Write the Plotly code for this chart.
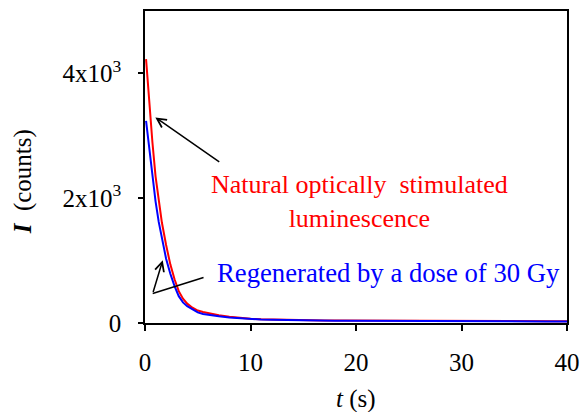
import plotly.graph_objects as go

# Time (s)
t_nat = [0.1, 0.4, 0.7, 1.0, 1.3, 1.6, 2.0, 2.4, 2.8, 3.2, 3.6, 4.0, 4.5, 5.0, 5.5, 6.0,
         7.0, 8.0, 9.0, 10, 11, 12, 13, 14, 15, 16, 17, 18, 19, 20, 21, 22, 23, 24, 25,
         26, 27, 28, 29, 30, 31, 32, 33, 34, 35, 36, 37, 38, 39, 40]
# Natural OSL counts (red)
i_nat = [4230, 3500, 2900, 2350, 1950, 1610, 1250, 940, 700, 510, 390, 310, 245, 200, 175, 155,
         125, 100, 82, 68, 60, 55, 51, 48, 46, 44, 42, 40, 39, 38, 37, 36, 35, 35, 34,
         33, 33, 32, 32, 31, 31, 30, 30, 30, 29, 29, 29, 28, 28, 28]

t_reg = t_nat
# Regenerated (30 Gy) counts (blue)
i_reg = [3240, 2800, 2350, 1950, 1620, 1350, 1030, 790, 590, 430, 330, 270, 215, 170, 145, 130,
         108, 90, 75, 63, 56, 51, 47, 44, 42, 40, 38, 37, 36, 35, 34, 33, 33, 32, 31,
         31, 30, 30, 29, 29, 28, 28, 28, 27, 27, 27, 26, 26, 26, 26]

x_ticks = [0, 10, 20, 30, 40]
y_ticks = [0, 2000, 4000]
y_ticktext = ["0", "2x10<sup>3</sup>", "4x10<sup>3</sup>"]

FONT = "Liberation Serif, Times New Roman, serif"

fig = go.Figure()
fig.add_trace(go.Scatter(x=t_nat, y=i_nat, mode="lines",
                         line=dict(color="#ff0000", width=2), showlegend=False))
fig.add_trace(go.Scatter(x=t_reg, y=i_reg, mode="lines",
                         line=dict(color="#0000ff", width=2), showlegend=False))

fig.update_layout(
    width=584, height=412,
    margin=dict(l=145, r=17, t=11, b=89, autoexpand=False),
    plot_bgcolor="white", paper_bgcolor="white",
    font=dict(family=FONT, size=25, color="black"),
    xaxis=dict(range=[0, 40], tickvals=x_ticks, ticks="outside", ticklen=6,
               tickwidth=1.5, tickcolor="black", showline=True, linecolor="black",
               linewidth=1.5, mirror=True, showgrid=False, zeroline=False,
               automargin=False, ticklabelstandoff=10, tickfont=dict(size=25)),
    yaxis=dict(range=[0, 5000], tickvals=y_ticks, ticktext=y_ticktext, ticks="outside",
               ticklen=5, tickwidth=1.5, tickcolor="black", showline=True,
               linecolor="black", linewidth=1.5, mirror=True, showgrid=False,
               zeroline=False, automargin=False, ticklabelstandoff=12,
               tickfont=dict(size=25)),
)

# Axis titles
fig.add_annotation(text="<i>t</i> (s)", xref="paper", yref="paper", x=0.5, y=-0.242,
                   showarrow=False, font=dict(size=25), xanchor="center", yanchor="middle")
fig.add_annotation(text="<b><i>I</i></b>  (counts)", xref="paper", yref="paper",
                   x=-0.289, y=0.451, textangle=-90, showarrow=False,
                   font=dict(size=25), xanchor="center", yanchor="middle")

# Labels
fig.add_annotation(text="Natural optically  stimulated<br>luminescence", x=20.3, y=1950,
                   showarrow=False, font=dict(size=26, color="#ff0000"),
                   xanchor="center", yanchor="middle")
fig.add_annotation(text="Regenerated by a dose of 30 Gy", x=23.1, y=800,
                   showarrow=False, font=dict(size=26.7, color="#0000ff"),
                   xanchor="center", yanchor="middle")

# Arrows
fig.add_annotation(x=0.98, y=3295, ax=7.18, ay=2566, xref="x", yref="y", axref="x", ayref="y",
                   showarrow=True, arrowhead=5, arrowsize=1.2, arrowwidth=1.5,
                   arrowcolor="black", text="")
fig.add_annotation(x=1.68, y=1006, ax=0.73, ay=472, xref="x", yref="y", axref="x", ayref="y",
                   showarrow=True, arrowhead=5, arrowsize=1.2, arrowwidth=1.5,
                   arrowcolor="black", text="")
fig.add_shape(type="line", x0=0.73, y0=472, x1=5.55, y1=728, xref="x", yref="y",
              line=dict(color="black", width=1.5))

fig.write_html("out.html", config={"displayModeBar": False},
               post_script="document.body.style.margin='0px';document.body.style.overflow='hidden';")
